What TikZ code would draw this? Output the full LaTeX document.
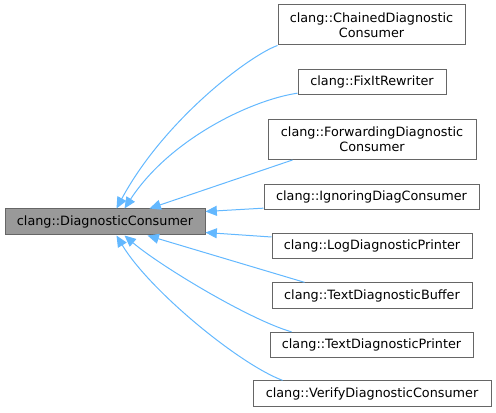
\documentclass[tikz,border=0pt]{standalone}
\usepackage{fontspec}
\setmainfont{DejaVu Sans}
\usetikzlibrary{arrows.meta,calc}

\definecolor{edgeblue}{HTML}{63B8FF}
\definecolor{nodeline}{HTML}{666666}
\definecolor{basefill}{HTML}{999999}

\begin{document}
\begin{tikzpicture}[
    x=0.75pt, y=-0.75pt,
    font=\fontsize{9.6}{11.4}\selectfont,
    clsbase/.style={draw=nodeline, line width=0.75pt, align=center,
        inner xsep=4pt, inner ysep=0pt, minimum height=19pt},
    cls/.style={clsbase, fill=white},
    twoline/.style={minimum height=30pt},
    basecls/.style={clsbase, fill=basefill, minimum height=19.5pt},
    inherit/.style={-{Triangle[length=8.5pt, width=7.5pt]}, draw=edgeblue, line width=0.75pt},
]
\useasboundingbox (0,0) rectangle (496,413);
\node[basecls, minimum width=150pt] (base) at (105,222) {clang::DiagnosticConsumer};
\node[cls, twoline, minimum width=140.25pt] (chained) at (371.5,25) {clang::ChainedDiagnostic\\Consumer};
\node[cls, minimum width=111pt]    (fixit) at (372,82)    {clang::FixItRewriter};
\node[cls, twoline, minimum width=156pt] (fwd) at (372,139.5) {clang::ForwardingDiagnostic\\Consumer};
\node[cls, minimum width=161.25pt] (ign)   at (371.5,197) {clang::IgnoringDiagConsumer};
\node[cls, minimum width=150pt]    (log)   at (372,246)   {clang::LogDiagnosticPrinter};
\node[cls, minimum width=150pt]    (buf)   at (372,295.5) {clang::TextDiagnosticBuffer};
\node[cls, minimum width=152.25pt] (prt)   at (371.5,345) {clang::TextDiagnosticPrinter};
\node[cls, minimum width=178.5pt]  (ver)   at (372,393.5) {clang::VerifyDiagnosticConsumer};
% inheritance edges, all pointing at the base class
\draw[inherit] (chained.south west) .. controls +(-28,10) and +(48,-89) .. ($(base.north west)+(112,0)$);
\draw[inherit] ($(fixit.south west)+(0,-2)$) .. controls +(-47,7) and +(45,-69) .. ($(base.north west)+(120,0)$);
\draw[inherit] ($(fwd.south west)+(25,0)$) -- ($(base.north west)+(145,0)$);
\draw[inherit] ($(ign.south west)+(0,-2)$) -- ($(base.north east)+(0,3)$);
\draw[inherit] ($(log.west)+(0,-9)$) -- ($(base.south east)+(0,-3)$);
\draw[inherit] ($(buf.north west)+(33,0)$) -- ($(base.south west)+(143,0)$);
\draw[inherit] ($(prt.north west)+(22,0)$) .. controls +(-42,-12) and +(35,30) .. ($(base.south west)+(120,0)$);
\draw[inherit] ($(ver.north west)+(30,0)$) .. controls +(-43,-16) and +(33,55) .. ($(base.south west)+(112,0)$);
\end{tikzpicture}
\end{document}
